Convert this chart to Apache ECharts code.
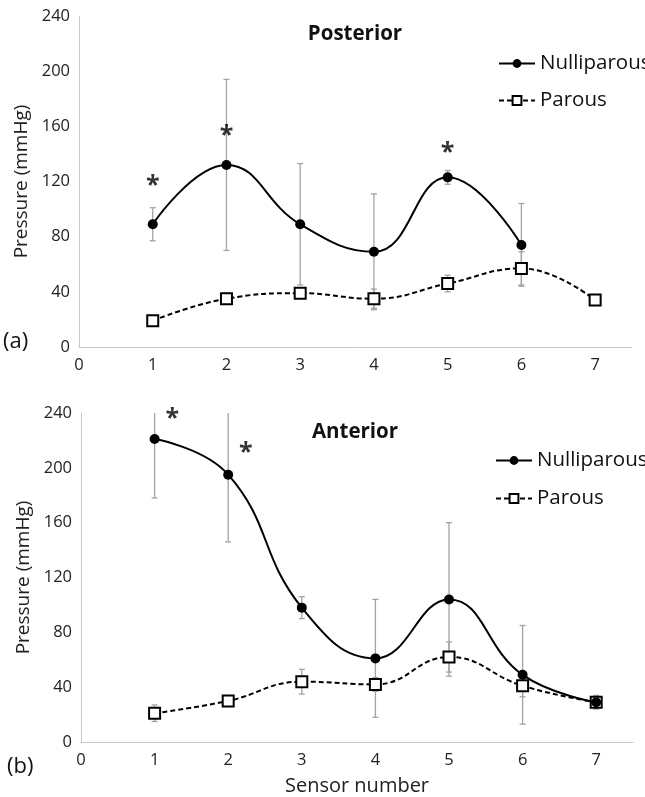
<!DOCTYPE html>
<html>
<head>
<meta charset="utf-8">
<script src="https://cdn.jsdelivr.net/npm/echarts@6/dist/echarts.min.js"></script>
<style>
html,body{margin:0;padding:0;background:#fff;}
#main{width:645px;height:797px;}
</style>
</head>
<body>
<div id="main"></div>
<script>
// sensors 1..7
var sensors = [1, 2, 3, 4, 5, 6, 7];

// posterior
var postNulli = [89, 132, 89, 69, 123, 74, null];
var postNulliErr = [12, 62, 44, 42, 5, 30, null];
var postParous = [19, 35, 39, 35, 46, 57, 34];
var postParousErr = [2, 4, 3, 7, 6, 12, 3];
var postStars = [[1, 117], [2, 153], [5, 141]];

// anterior
var antNulli = [221, 195, 98, 61, 104, 49, 29];
var antNulliErr = [43, 49, 8, 43, 56, 36, 4];
var antParous = [21, 30, 44, 42, 62, 41, 29];
var antParousErr = [6, 3, 9, 5, 11, 8, 5];
var antStars = [[1.24, 236], [2.24, 211]];

var yTicks = [0, 40, 80, 120, 160, 200, 240];

var FONT = '"Open Sans", "Liberation Sans", sans-serif';

function pairs(vals) {
    var out = [];
    for (var i = 0; i < sensors.length; i++) {
        if (vals[i] != null) out.push([sensors[i], vals[i]]);
    }
    return out;
}
function errs(vals, e) {
    var out = [];
    for (var i = 0; i < sensors.length; i++) {
        if (vals[i] != null) out.push([sensors[i], vals[i] - e[i], vals[i] + e[i]]);
    }
    return out;
}

function errorRender(params, api) {
    var lo = api.coord([api.value(0), api.value(1)]);
    var hi = api.coord([api.value(0), api.value(2)]);
    var style = {stroke: '#a3a3a3', lineWidth: 1.3};
    return {
        type: 'group',
        children: [
            {type: 'line', shape: {x1: lo[0], y1: lo[1], x2: hi[0], y2: hi[1]}, style: style},
            {type: 'line', shape: {x1: lo[0] - 3, y1: lo[1], x2: lo[0] + 3, y2: lo[1]}, style: style},
            {type: 'line', shape: {x1: hi[0] - 3, y1: hi[1], x2: hi[0] + 3, y2: hi[1]}, style: style}
        ]
    };
}

function xAxis(idx, withName) {
    return {
        type: 'value', gridIndex: idx, min: 0, max: 7.5, interval: 1,
        axisLine: {show: true, lineStyle: {color: '#c8c8c8', width: 1}},
        axisTick: {show: false},
        splitLine: {show: false},
        axisLabel: {
            color: '#222', fontSize: 16.5, fontFamily: FONT, margin: 10,
            formatter: function (v) { return v % 1 === 0 ? String(v) : ''; }
        },
        name: withName ? 'Sensor number' : '',
        nameLocation: 'middle', nameGap: 34,
        nameTextStyle: {color: '#222', fontSize: 20, fontFamily: FONT}
    };
}
function yAxis(idx) {
    return {
        type: 'value', gridIndex: idx, min: yTicks[0], max: yTicks[yTicks.length - 1], interval: 40,
        axisLine: {show: true, lineStyle: {color: '#c8c8c8', width: 1}},
        axisTick: {show: false},
        splitLine: {show: false},
        axisLabel: {color: '#222', fontSize: 16.5, fontFamily: FONT, margin: 9},
        name: 'Pressure (mmHg)',
        nameLocation: 'middle', nameGap: 46,
        nameTextStyle: {color: '#222', fontSize: 19, fontFamily: FONT}
    };
}

function nulliSeries(idx, vals) {
    return {
        name: 'Nulliparous', type: 'line', xAxisIndex: idx, yAxisIndex: idx,
        data: pairs(vals), smooth: 0.45, z: 4,
        symbol: 'circle', symbolSize: 10,
        itemStyle: {color: '#000'},
        lineStyle: {color: '#000', width: 2}
    };
}
function parousSeries(idx, vals) {
    return {
        name: 'Parous', type: 'line', xAxisIndex: idx, yAxisIndex: idx,
        data: pairs(vals), smooth: 0.45, z: 3,
        symbol: 'rect', symbolSize: 11,
        itemStyle: {color: '#fff', borderColor: '#000', borderWidth: 2},
        lineStyle: {color: '#000', width: 2, type: [5, 3]}
    };
}
function errSeries(idx, vals, e) {
    return {
        type: 'custom', xAxisIndex: idx, yAxisIndex: idx, clip: true, z: 2,
        renderItem: errorRender, data: errs(vals, e), silent: true
    };
}
function starSeries(idx, pts) {
    return {
        type: 'scatter', xAxisIndex: idx, yAxisIndex: idx, data: pts,
        symbolSize: 1, itemStyle: {color: 'rgba(0,0,0,0)'}, silent: true,
        label: {show: true, position: 'inside', formatter: '*', color: '#000',
            fontSize: 25, fontWeight: 'bold', fontFamily: FONT}
    };
}

var chart = echarts.init(document.getElementById('main'));
chart.setOption({
    backgroundColor: '#fff',
    animation: false,
    title: [
        {text: 'Posterior', left: 350, top: 19, textAlign: 'center',
            textStyle: {fontSize: 20.5, fontWeight: 'bold', fontFamily: FONT, color: '#111'}},
        {text: 'Anterior', left: 350, top: 417, textAlign: 'center',
            textStyle: {fontSize: 20.5, fontWeight: 'bold', fontFamily: FONT, color: '#111'}}
    ],
    legend: [
        {left: 493, top: 48, orient: 'vertical', itemGap: 16, itemWidth: 36, itemHeight: 11,
            data: ['Nulliparous', 'Parous'],
            textStyle: {fontSize: 20.5, fontFamily: FONT, color: '#111'}},
        {left: 490, top: 445, orient: 'vertical', itemGap: 17, itemWidth: 36, itemHeight: 11,
            data: ['Nulliparous', 'Parous'],
            textStyle: {fontSize: 20.5, fontFamily: FONT, color: '#111'}}
    ],
    graphic: [
        {type: 'text', left: 3, top: 331, style: {text: '(a)', fontSize: 22, fontFamily: FONT, fill: '#111'}},
        {type: 'text', left: 7, top: 756, style: {text: '(b)', fontSize: 22, fontFamily: FONT, fill: '#111'}}
    ],
    grid: [
        {left: 79, top: 16, width: 553, height: 331},
        {left: 81, top: 413, width: 552, height: 331}
    ],
    xAxis: [xAxis(0, false), xAxis(1, true)],
    yAxis: [yAxis(0), yAxis(1)],
    series: [
        errSeries(0, postNulli, postNulliErr),
        errSeries(0, postParous, postParousErr),
        nulliSeries(0, postNulli),
        parousSeries(0, postParous),
        starSeries(0, postStars),
        errSeries(1, antNulli, antNulliErr),
        errSeries(1, antParous, antParousErr),
        nulliSeries(1, antNulli),
        parousSeries(1, antParous),
        starSeries(1, antStars)
    ]
});
</script>
</body>
</html>
